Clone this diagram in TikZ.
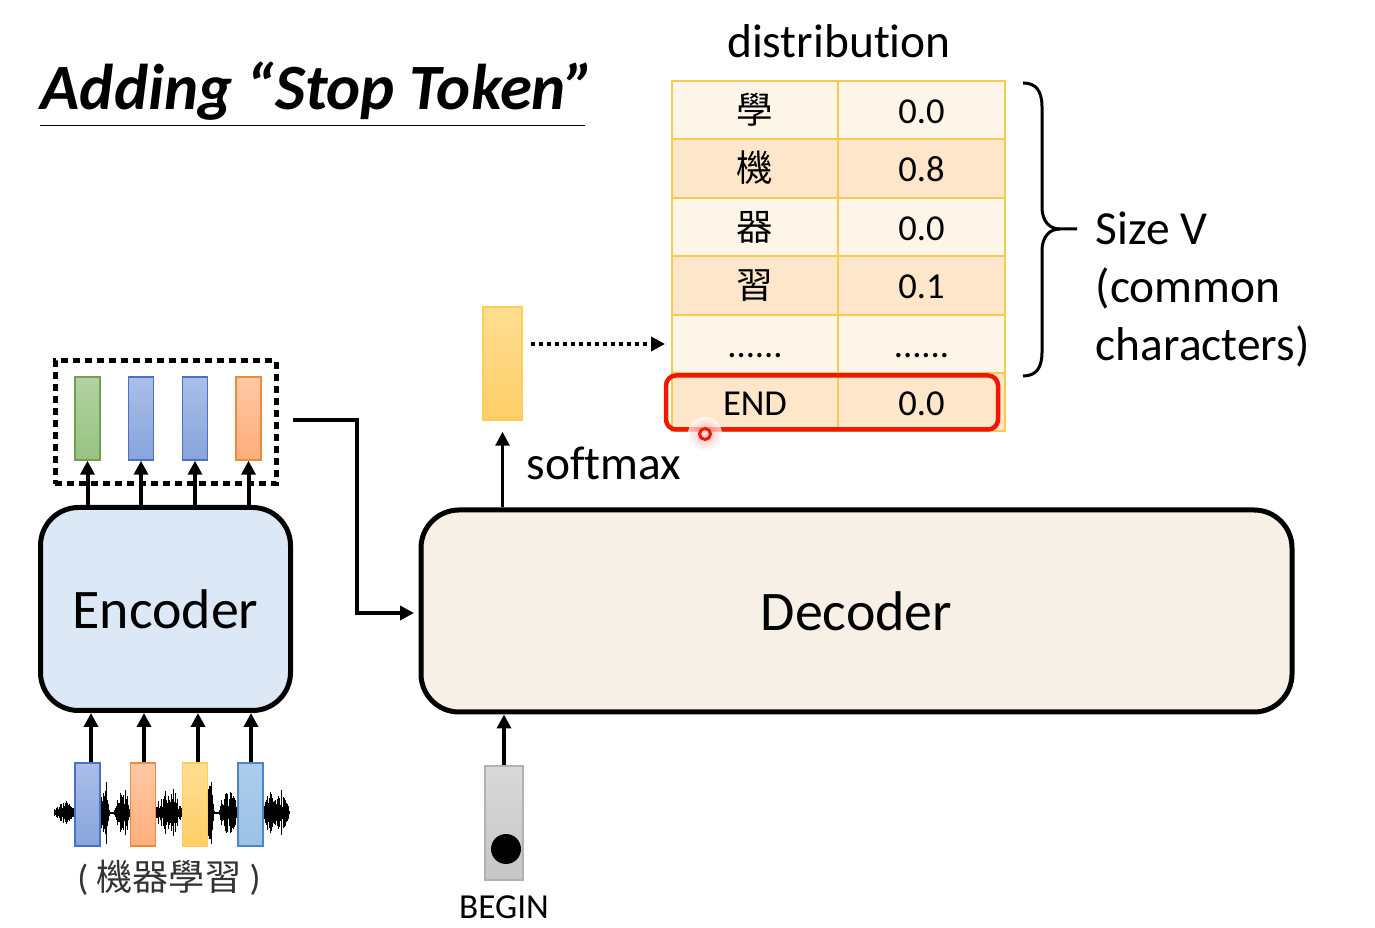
\documentclass[tikz,border=0pt]{standalone}
\usepackage{fontspec}
\usepackage{xcolor}
\usetikzlibrary{arrows.meta, shadings}
\setmainfont{Carlito}[Ligatures=NoCommon]
\newfontfamily\cjkfont{Noto Sans CJK TC}
\newcommand{\sixdots}{......}
\definecolor{Celda}{RGB}{245, 203, 80}
\definecolor{FilaClara}{RGB}{254, 245, 233}
\definecolor{FilaOscura}{RGB}{253, 230, 201}
\definecolor{Rojo}{RGB}{240, 24, 4}
\definecolor{Hielo}{RGB}{220, 232, 245}
\definecolor{Crema}{RGB}{246, 240, 230}
\definecolor{VerdeA}{RGB}{178, 210, 162}
\definecolor{VerdeB}{RGB}{152, 194, 130}
\definecolor{VerdeL}{RGB}{112, 160, 86}
\definecolor{AzulA}{RGB}{170, 190, 232}
\definecolor{AzulB}{RGB}{136, 164, 220}
\definecolor{AzulL}{RGB}{72, 114, 196}
\definecolor{CieloA}{RGB}{172, 204, 236}
\definecolor{CieloB}{RGB}{156, 194, 230}
\definecolor{CieloL}{RGB}{74, 134, 200}
\definecolor{NaranjaA}{RGB}{255, 200, 165}
\definecolor{NaranjaB}{RGB}{255, 174, 122}
\definecolor{NaranjaL}{RGB}{237, 139, 60}
\definecolor{AmbarA}{RGB}{255, 222, 145}
\definecolor{AmbarB}{RGB}{254, 206, 104}
\definecolor{AmbarL}{RGB}{252, 206, 90}

\begin{document}
\begin{tikzpicture}[
        >={Triangle[length=1.4mm, width=1.4mm]},
        coder/.style={rectangle, rounded corners=0.38cm, draw=black, line width=0.05cm, align=center, font=\fontsize{15.9}{18}\selectfont},
        vecbar/.style={rectangle, minimum width=0.25cm, minimum height=0.83cm, inner sep=0pt, line width=0.15mm},
        greenbar/.style={vecbar, draw=VerdeL, top color=VerdeA, bottom color=VerdeB},
        bluebar/.style={vecbar, draw=AzulL, top color=AzulA, bottom color=AzulB},
        skybar/.style={vecbar, draw=CieloL, top color=CieloA, bottom color=CieloB},
        orangebar/.style={vecbar, draw=NaranjaL, top color=NaranjaA, bottom color=NaranjaB},
        amberbar/.style={vecbar, draw=AmbarL, top color=AmbarA, bottom color=AmbarB},
        cell/.style={rectangle, draw=Celda, line width=0.2mm, minimum height=0.585cm, inner sep=0pt, text height=0.27cm, text depth=0pt, font=\fontsize{10.4}{12}\selectfont},
        flow/.style={->, draw=black, line width=0.04cm},
        wave/.style={draw=black, line width=0.008cm},
        note/.style={font=\fontsize{13.5}{16.5}\selectfont, inner sep=0pt}
    ]
        \useasboundingbox (0,0) rectangle (13.75,9.27);
        \fill[white] (0,0) rectangle (13.75,9.27);

        % Title with its rule
        \node[anchor=base west, inner sep=0pt, text depth=0.15cm, font=\fontsize{18.4}{20}\selectfont\bfseries\itshape] (title) at (0.40,8.17) {Adding “Stop Token”};
        \draw[black, line width=0.015cm] (title.south west) -- ([xshift=-0.10cm]title.south east);

        % Encoder and Decoder blocks
        \node[coder, fill=Hielo, minimum width=2.50cm, minimum height=2.03cm] (enc) at (1.655,3.18) {Encoder};
        \node[coder, fill=Crema, minimum width=8.71cm, minimum height=2.02cm] (dec) at (8.565,3.16) {Decoder};

        % Encoder output vectors
        \node[draw=black, dash pattern=on 0.07cm off 0.05cm, line width=0.05cm, minimum width=2.21cm, minimum height=1.23cm] (latent) at (1.655,5.045) {};
        \node[greenbar] (lat1) at (0.875,5.085) {};
        \node[bluebar] (lat2) at (1.41,5.085) {};
        \node[bluebar] (lat3) at (1.95,5.085) {};
        \node[orangebar] (lat4) at (2.485,5.085) {};
        \foreach \i in {1,...,4} {
            \draw[flow] (enc.north -| lat\i.south) -- (lat\i.south);
        }

        % Waveform behind the input vectors
        \pgfmathsetseed{11}
        \draw[wave, line width=0.02cm] (0.54,1.144) -- (2.90,1.144);
        \draw[wave] (1.06,0.83) -- (1.06,1.45);
        \draw[wave] (2.11,0.83) -- (2.11,1.45);
        \foreach \cx/\hw/\ha in {0.645/0.105/0.13, 1.04/0.05/0.27, 1.23/0.09/0.25, 1.69/0.135/0.27, 2.10/0.04/0.27, 2.29/0.10/0.25, 2.76/0.13/0.27, 1.45/0.20/0.06} {
            \foreach \k in {-14,...,14} {
                \pgfmathsetmacro\wx{\cx+\hw*\k/14}
                \pgfmathsetmacro\wh{\ha*(1-(\k/15)*(\k/15))*(0.25+0.75*rnd)}
                \draw[wave] (\wx,1.144-\wh) -- (\wx,1.144+\wh);
            }
        }

        % Input vectors
        \node[bluebar] (in1) at (0.875,1.225) {};
        \node[orangebar] (in2) at (1.43,1.225) {};
        \node[amberbar] (in3) at (1.95,1.225) {};
        \node[skybar] (in4) at (2.505,1.225) {};
        \foreach \i/\dx in {1/0.035, 2/0.01, 3/0.03, 4/0.005} {
            \draw[flow] ([xshift=\dx cm]in\i.north) -- ([xshift=\dx cm]in\i.north |- enc.south);
        }
        \node[font=\fontsize{10.3}{12}\selectfont, text=black!80, inner sep=0pt] (wavetext) at (1.69,0.49) {( {\cjkfont 機器學習} )};

        % Link from encoder output to decoder
        \coordinate (latentout) at (2.93,5.07);
        \draw[flow, line width=0.035cm, shorten >=0.045cm] (latentout) -- ++(0.64,0) |- ([yshift=-0.02cm]dec.west);

        % BEGIN token
        \node[rectangle, draw=gray!60, top color=gray!30, bottom color=gray!45, minimum width=0.38cm, minimum height=1.14cm, inner sep=0pt] (start) at (5.04,1.04) {};
        \node[circle, fill=black, minimum size=0.30cm, inner sep=0pt] (startdot) at (5.06,0.78) {};
        \node[font=\fontsize{10}{12}\selectfont, inner sep=0pt] (starttext) at (5.04,0.20) {BEGIN};
        \draw[flow, line width=0.035cm] (start.north) -- (start.north |- dec.south);

        % Decoder output vector
        \node[amberbar, minimum width=0.39cm, minimum height=1.13cm] (soft) at (5.025,5.635) {};
        \draw[flow, line width=0.03cm, shorten >=0.11cm] (dec.north -| soft.south) -- (soft.south);
        \node[note, anchor=west] (softtext) at (5.26,4.64) {softmax};

        % Distribution table
        \node[note] (disttext) at (8.39,8.86) {distribution};
        \foreach \i/\rowy/\hue/\sym/\val in {1/8.17/FilaClara/{\cjkfont 學}/0.0, 2/7.585/FilaOscura/{\cjkfont 機}/0.8, 3/7.00/FilaClara/{\cjkfont 器}/0.0, 4/6.415/FilaOscura/{\cjkfont 習}/0.1, 5/5.83/FilaClara/\sixdots/\sixdots, 6/5.25/FilaOscura/END/0.0} {
            \node[cell, fill=\hue, minimum width=1.66cm] (sym\i) at (7.55,\rowy) {\sym};
            \node[cell, fill=\hue, minimum width=1.67cm] (val\i) at (9.215,\rowy) {\val};
        }
        \draw[flow, dotted, dash pattern=on 0.04cm off 0.04cm, line width=0.04cm, shorten <=0.08cm, shorten >=0.06cm] (soft.east |- sym5.west) -- (sym5.west);

        % Highlight on the last row
        \node[rectangle, draw=Rojo, line width=0.045cm, rounded corners=0.1cm, minimum width=3.32cm, minimum height=0.54cm] (endbox) at (8.32,5.245) {};
        \shade[inner color=red!40, outer color=white, opacity=0.7] (7.05,4.93) circle (0.17);
        \node[circle, draw=Rojo, fill=red!15, line width=0.03cm, minimum size=0.11cm, inner sep=0pt] (pointer) at (7.05,4.93) {};

        % Brace and size note
        \draw[black, line width=0.03cm] (10.23,8.44) .. controls (10.36,8.44) and (10.42,8.36) .. (10.42,8.2) -- (10.42,7.2) .. controls (10.42,7.05) and (10.5,6.98) .. (10.6,6.98) -- (10.77,6.98);
        \draw[black, line width=0.03cm] (10.6,6.98) .. controls (10.5,6.98) and (10.42,6.91) .. (10.42,6.76) -- (10.42,5.75) .. controls (10.42,5.59) and (10.36,5.51) .. (10.23,5.51);
        \node[note, anchor=west, align=left] (sizetext) at (10.95,6.375) {Size V\\(common\\characters)};
    \end{tikzpicture}
\end{document}
